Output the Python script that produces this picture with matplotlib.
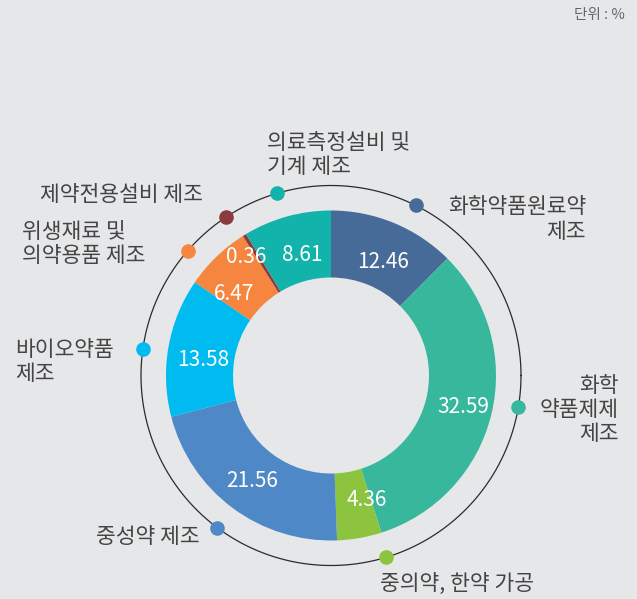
import matplotlib
matplotlib.use("Agg")
import matplotlib.pyplot as plt
import numpy as np

plt.rcParams['font.family'] = ['Noto Sans CJK KR', 'DejaVu Sans']

categories = ["화학약품원료약\n제조", "화학\n약품제제\n제조", "중의약, 한약 가공", "중성약 제조",
              "바이오약품\n제조", "위생재료 및\n의약용품 제조", "제약전용설비 제조", "의료측정설비 및\n기계 제조"]
values = [12.46, 32.59, 4.36, 21.56, 13.58, 6.47, 0.36, 8.61]
value_labels = ["12.46", "32.59", "4.36", "21.56", "13.58", "6.47", "0.36", "8.61"]
colors = ["#476b98", "#37b79c", "#8cc43f", "#4f88c6", "#00bbf0", "#f5853f", "#8b3b3f", "#11b3aa"]
unit_label = "단위 : %"

BG = "#e6e7e9"
W, H = 637, 599
fig = plt.figure(figsize=(W / 100, H / 100), dpi=100, facecolor=BG)
ax = fig.add_axes([0, 0, 1, 1])
ax.set_facecolor(BG)

cx, cy = 331, H - 375.5
R_out, R_in = 165, 98
R_ring = 190

ax.pie(values, radius=R_out, center=(cx, cy), startangle=90, counterclock=False,
       colors=colors, wedgeprops=dict(width=R_out - R_in, linewidth=0))

# outer ring
t = np.linspace(0, 2 * np.pi, 400)
ax.plot(cx + R_ring * np.cos(t), cy + R_ring * np.sin(t), color="#2b2b2b", lw=0.9, zorder=2)

cum = np.cumsum([0] + values[:-1])
mids = (cum + np.array(values) / 2) / sum(values) * 360  # clockwise from top

# dot angle adjustments (layout)
dot_adj = [4, -4, -7, 0, -2, -5, -2, -1]
# value label adjustments: (angle offset deg, radius)
lab_adj = [(2, 125), (0, 136), (-6, 130), (0, 132), (-3, 129), (-6, 127), (-4, 146), (2, 124)]

for i, m in enumerate(mids):
    a = np.deg2rad(90 - (m + dot_adj[i]))
    ax.plot(cx + R_ring * np.cos(a), cy + R_ring * np.sin(a), 'o', ms=10.5,
            color=colors[i], mec='none', zorder=3)
    da, rr = lab_adj[i]
    b = np.deg2rad(90 - (m + da))
    ax.text(cx + rr * np.cos(b), cy + rr * np.sin(b), value_labels[i], color="white",
            fontsize=15, fontweight='medium', ha='center', va='center', zorder=4)

txt = dict(color="#444444", fontsize=15.5, linespacing=1.12, zorder=4)
# category label positions (pixel layout)
cat_pos = [(586, 219.5, 'right'), (619, 410, 'right'), (380, 585, 'left'), (200, 537, 'right'),
           (15, 362, 'left'), (22, 244, 'left'), (40, 195, 'left'), (267, 155, 'left')]
for (x, y, ha), c in zip(cat_pos, categories):
    ax.text(x, H - y, c, ha=ha, va='center', multialignment=ha, **txt)

ax.text(625, H - 15, unit_label, ha='right', va='center', color="#666666", fontsize=10.5)

ax.set_xlim(0, W)
ax.set_ylim(0, H)
ax.set_aspect('equal')
ax.axis('off')
fig.savefig("out.png", dpi=100, facecolor=BG)
